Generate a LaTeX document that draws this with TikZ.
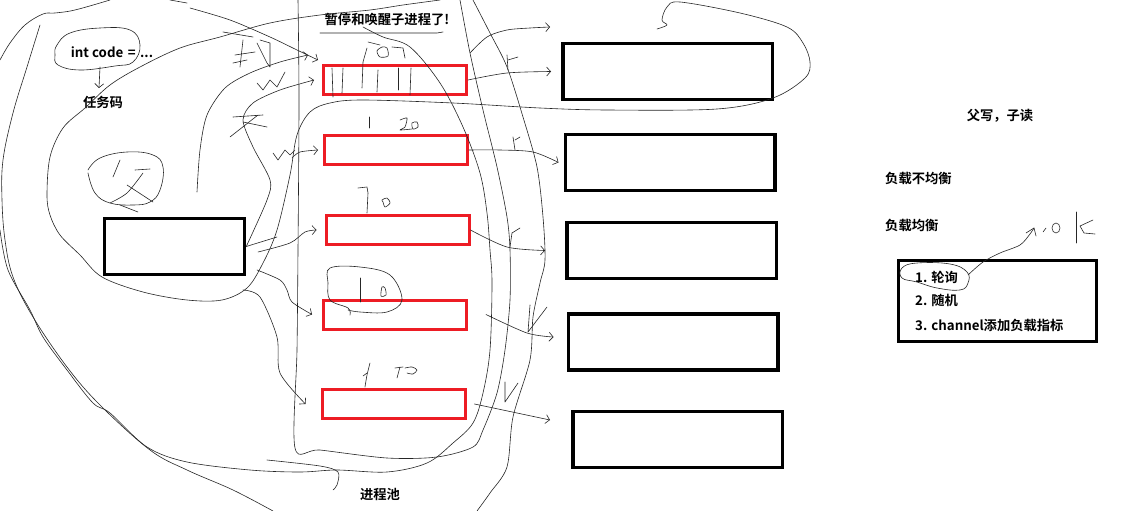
\documentclass[tikz,border=0pt]{standalone}
\usepackage{fontspec}
\setmainfont{Noto Sans CJK SC}[BoldFont={Noto Sans CJK SC Bold}]
\usetikzlibrary{arrows.meta}
\definecolor{pred}{RGB}{237,28,36}
\tikzset{
  hand/.style={line width=0.6pt, black!85, line cap=round, line join=round},
  harrow/.style={hand, -{Straight Barb[length=4pt,width=9pt]}},
  redbox/.style={draw=pred, line width=3pt, minimum width=143pt, minimum height=29pt, inner sep=0pt},
  blkbox/.style={draw=black, line width=3.5pt, minimum width=209.5pt, minimum height=56pt, inner sep=0pt},
  lbl/.style={font=\fontsize{13.3}{16}\selectfont\bfseries, inner sep=0pt},
}
\begin{document}
\begin{tikzpicture}[x=1pt,y=-1pt]
\useasboundingbox (0,0) rectangle (1141,511);
\fill[white] (0,0) rectangle (1141,511);

% ---------- boxes ----------
\node[draw=black, line width=3.5pt, minimum width=140pt, minimum height=56pt, inner sep=0pt] (blk0) at (174.5,246.5) {};
\node[redbox] (red1) at (395,80) {};
\node[redbox] (red2) at (396,150) {};
\node[redbox] (red3) at (397.5,230) {};
\node[redbox] (red4) at (395,314.5) {};
\node[redbox] (red5) at (393.5,404) {};
\node[blkbox] (blk1) at (667.5,71.5) {};
\node[blkbox] (blk2) at (670,162.5) {};
\node[blkbox] (blk3) at (671.5,250.5) {};
\node[blkbox] (blk4) at (673,342) {};
\node[blkbox] (blk5) at (677.5,439.5) {};
\node[draw=black, line width=3pt, minimum width=198pt, minimum height=81pt, inner sep=0pt] (list) at (997.5,301) {};

% ---------- texts ----------
\node[lbl] (tcode) at (112,52) {int code\hspace{1.5pt} =\hspace{1.5pt} ...};
\node[lbl] (trenwu) at (103,102) {任务码};
\node[lbl] (tpause) at (387,19) {暂停和唤醒子进程了!};
\node[lbl] (tpool) at (380,494) {进程池};
\node[lbl] (tfuxie) at (1000,116) {父写，子读};
\node[lbl, anchor=west] (tbujun) at (885,178) {负载不均衡};
\node[lbl, anchor=west] (tjun) at (885,225) {负载均衡};
\node[lbl, anchor=west] (item1) at (915,277) {1. 轮询};
\node[lbl, anchor=west] (item2) at (915,300) {2. 随机};
\node[lbl, anchor=west] (item3) at (915,325) {3. channel添加负载指标};

% ---------- hand strokes around texts ----------
\draw[hand] plot[smooth cycle, tension=0.7] coordinates {(57,45) (70,33) (100,28) (130,30) (140,45) (133,62) (115,66) (80,70) (58,65) (55,55)};
\draw[harrow] (100,67) -- (99,88);
\draw[hand] (320,33) -- (437,33) -- (443,32);
\draw[hand] plot[smooth cycle, tension=0.7] coordinates {(902,268) (917,263) (950,264) (967,272) (968,283) (960,290) (937,288) (917,282) (902,278)};
\coordinate (okend) at (1034,228);
\draw[hand] plot[smooth, tension=0.5] coordinates {(968,275) (983,262) (1000,253) (1020,245) (1030,234) (okend)};
\draw[hand] (1026,233) -- (okend) -- (1036,236);
\draw[hand] (1043,232) -- (1046,228);
\draw[hand] (1056,228) ellipse (4 and 5);
\draw[hand] (1076,212) -- (1076,243);
\draw[hand] (1093,220) -- (1080,226) -- (1084,233) -- (1095,234);

% ---------- big loops ----------
\draw[hand] plot[smooth, tension=0.55] coordinates {(440,0) (403,5) (370,10) (320,15) (270,23) (220,37) (180,48) (140,67) (110,85) (85,108) (63,128) (50,157) (47,195) (50,215) (60,235) (80,255) (102,277) (143,292) (187,300) (222,300) (247,288) (263,263) (277,230) (290,175) (297,135) (310,112) (330,103) (363,100) (453,103) (540,108) (607,110) (717,109) (773,98) (805,78) (810,62) (803,43) (787,27) (740,13) (680,2) (667,7) (662,20) (667,25) (657,29)};
\draw[hand] plot[smooth, tension=0.6] coordinates {(0,60) (10,43) (25,25) (43,14) (55,13) (75,10) (110,0)};
\draw[hand] plot[smooth, tension=0.6] coordinates {(40,25) (27,67) (13,113) (3,160) (2,200) (5,240) (13,277) (33,317) (67,367) (100,405) (150,450) (187,470) (233,490) (273,511)};
\draw[hand] plot[smooth, tension=0.55] coordinates {(363,27) (383,37) (410,47) (440,83) (463,127) (480,173) (487,213) (490,250) (492,283) (490,350) (483,393) (473,423) (453,443) (427,463) (387,472) (337,470) (300,472) (250,470) (187,462) (147,447) (110,413) (93,403) (67,370) (43,337) (30,310) (8,270) (0,230)};
% pool
\draw[hand] plot[smooth, tension=0.5] coordinates {(298,0) (299,100) (298,250) (297,350) (295,448) (320,450) (387,458) (437,457) (473,447) (483,430) (497,393) (505,350) (510,300) (510,250) (507,217) (497,167) (483,110) (470,53) (460,0)};
\draw[hand] plot[smooth, tension=0.5] coordinates {(473,0) (490,33) (507,67) (523,117) (537,167) (543,217) (545,260) (540,283) (533,317) (530,360) (513,417) (507,467) (490,493) (477,511)};
\draw[hand] plot[smooth, tension=0.5] coordinates {(267,460) (320,466) (338,472) (337,485) (333,490)};
\draw[hand] (170,0) -- (187,3);

% ---------- circle with scribble (left) ----------
\draw[hand] plot[smooth, tension=0.7] coordinates {(88,170) (100,158) (127,152) (153,155) (163,167) (160,190) (150,202) (133,205) (110,203) (95,193) (88,173)};
\draw[hand] (113,177) -- (120,160);
\draw[hand] (135,170) -- (150,169);
\draw[hand] plot[smooth] coordinates {(143,173) (127,193) (110,203)};
\draw[hand] (127,185) -- (153,202);
\draw[hand] (120,205) -- (138,212);

% scribbles near red box 1 / 2
\draw[hand] (223,32) -- (253,37);
\draw[hand] (243,40) -- (240,67);
\draw[hand] (235,55) -- (255,52);
\draw[hand] (233,63) -- (247,60);
\draw[hand] (257,43) -- (267,63) -- (270,67) -- (270,43) -- (260,40);
\draw[hand] (257,83) -- (263,90) -- (270,80) -- (277,87) -- (285,72);
\draw[hand] (233,117) -- (263,115);
\draw[hand] (258,115) -- (230,137);
\draw[hand] (243,122) -- (267,127);
\draw[hand] (273,153) -- (278,160) -- (285,150) -- (290,155) -- (295,150);

% ---------- arrows into red boxes ----------
\draw[harrow] plot[smooth, tension=0.5] coordinates {(190,8) (230,20) (270,37) (297,50) (318,60)};
\draw[harrow] plot[smooth, tension=0.5] coordinates {(197,192) (200,150) (207,115) (225,88) (250,73) (280,62) (308,55)};
\draw[harrow] plot[smooth, tension=0.5] coordinates {(blk0.east) (267,200) (270,180) (253,147) (243,120) (253,103) (280,90) ([xshift=-8pt]red1.west)};
\draw[hand] (blk0.east) -- (277,237);
\draw[harrow] plot[smooth, tension=0.5] coordinates {(292,158) (300,152) ([xshift=-5pt]red2.west)};
\draw[harrow] plot[smooth, tension=0.5] coordinates {(258,252) (290,243) (305,232) ([xshift=-8pt]red3.west)};
\draw[harrow] plot[smooth, tension=0.5] coordinates {(257,270) (280,280) (287,290) (292,302) ([xshift=-10pt]red4.west)};
\draw[harrow] plot[smooth, tension=0.5] coordinates {(243,290) (260,297) (277,337) (280,373) ([xshift=-15pt]red5.west)};

% ---------- arrows from red boxes to black boxes ----------
\draw[harrow] plot[smooth, tension=0.5] coordinates {(red1.east) (507,73) ([xshift=-10pt]blk1.west)};
\draw[harrow] plot[smooth, tension=0.5] coordinates {(470,53) (487,37) (507,30) (530,28) (550,27)};
\draw[harrow] plot[smooth, tension=0.5] coordinates {(red2.east) (500,150) (533,152) ([xshift=-5pt]blk2.west)};
\draw[harrow] plot[smooth, tension=0.5] coordinates {(red3.east) (507,247) ([xshift=-20pt]blk3.west)};
\draw[harrow] plot[smooth, tension=0.5] coordinates {([xshift=18pt]red4.east) (527,333) ([xshift=-13pt,yshift=5pt]blk4.west)};
\draw[harrow] plot[smooth, tension=0.5] coordinates {([xshift=8pt]red5.east) (517,413) ([xshift=-21pt,yshift=19.5pt]blk5.west)};
% r / v marks
\draw[hand] (507,55) -- (508,70);
\draw[hand] (508,60) -- (518,57);
\draw[hand] (513,137) -- (515,150);
\draw[hand] (515,140) -- (520,137);
\draw[hand] (512,233) -- (510,247);
\draw[hand] (512,233) -- (520,228);
\draw[hand] (530,305) -- (528,332) -- (547,307);
\draw[hand] (505,382) -- (505,402) -- (518,383);

% ---------- handwritten numbers ----------
\draw[hand] (368,42) -- (380,45);
\draw[hand] (367,48) -- (363,62) -- (362,88);
\draw[hand] plot[smooth cycle] coordinates {(382,47) (377,51) (380,57) (388,56) (387,48)};
\draw[hand] (392,47) -- (403,48) -- (405,58);
\draw[hand] (332,68) -- (333,97);
\draw[hand] (343,68) -- (342,93);
\draw[hand] (378,70) -- (377,92);
\draw[hand] (398,68) -- (398,90);
\draw[hand] (411,68) -- (410,95);
\draw[hand] (369,117) -- (369,128);
\draw[hand] plot[smooth, tension=0.4] coordinates {(400,120) (407,118) (405,127) (400,130) (412,129)};
\draw[hand] plot[smooth cycle] coordinates {(412,123) (417,122) (418,127) (413,129)};
\draw[hand] (358,188) -- (367,187) -- (368,193) -- (367,213);
\draw[hand] plot[smooth cycle] coordinates {(382,200) (387,198) (390,203) (385,207) (383,202)};
\draw[hand] (360,278) -- (360,302);
\draw[hand] plot[smooth cycle] coordinates {(382,287) (385,288) (386,295) (381,296)};
\draw[hand] plot[smooth, tension=0.6] coordinates {(350,315) (348,308) (330,300) (328,283) (330,268) (360,267) (390,275) (402,300) (387,312) (360,312) (348,310)};
\draw[hand] plot[smooth] coordinates {(370,363) (367,375) (365,387)};
\draw[hand] (367,373) -- (363,376);
\draw[hand] (395,368) -- (403,367);
\draw[hand] (400,367) -- (397,378);
\draw[hand] plot[smooth] coordinates {(405,368) (412,367) (417,370) (413,374) (407,373)};
\end{tikzpicture}
\end{document}
